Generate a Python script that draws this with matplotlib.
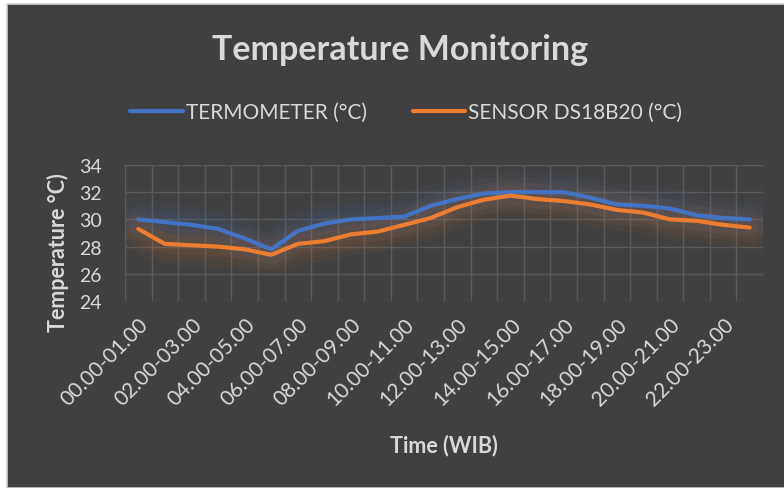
import matplotlib.pyplot as plt
from matplotlib.patches import Rectangle

# Data
hours = ["%02d.00-%02d.00" % (h, h + 1) for h in range(24)]
termometer = [30.0, 29.8, 29.6, 29.3, 28.6, 27.8, 29.15, 29.7, 30.0, 30.1, 30.2, 31.0,
              31.5, 31.9, 32.0, 32.0, 32.0, 31.6, 31.1, 31.0, 30.8, 30.3, 30.1, 30.0]
sensor = [29.3, 28.2, 28.1, 28.0, 27.8, 27.4, 28.2, 28.4, 28.9, 29.1, 29.6, 30.1,
          30.9, 31.45, 31.75, 31.5, 31.35, 31.1, 30.7, 30.5, 30.0, 29.9, 29.6, 29.4]
yticks = [24, 26, 28, 30, 32, 34]

bg = '#404040'
txt = '#d9d9d9'
blue = '#4472c4'
orange = '#ed7d31'
plt.rcParams['font.family'] = ['Lato', 'DejaVu Sans']

fig = plt.figure(figsize=(7.84, 4.89), dpi=100)
fig.patch.set_facecolor('white')
# chart area with light border
fig.patches.append(Rectangle((7 / 784, 0), 1, 1 - 5 / 489, transform=fig.transFigure,
                             facecolor=bg, edgecolor='#d0d0d0', linewidth=1.2, zorder=-10))

ax = fig.add_axes([125 / 784, 1 - 302 / 489, 638 / 784, 136 / 489])
ax.set_facecolor('none')
x = list(range(len(hours)))

# glow
for lw, a in [(30, 0.05), (22, 0.06), (14, 0.07)]:
    ax.plot(x, termometer, color=blue, lw=lw, alpha=a, solid_capstyle='round', zorder=2)
    ax.plot(x, sensor, color=orange, lw=lw, alpha=a, solid_capstyle='round', zorder=2)
ax.plot(x, termometer, color=blue, lw=3, solid_capstyle='round', zorder=4, label='TERMOMETER (°C)')
ax.plot(x, sensor, color=orange, lw=3, solid_capstyle='round', zorder=4, label='SENSOR DS18B20 (°C)')

ax.set_xlim(-0.5, 23.5)
ax.set_ylim(24, 34)
ax.set_yticks(yticks)
ax.set_xticks(x[::2])
ax.set_xticklabels(hours[::2], rotation=45, ha='right', rotation_mode='anchor')
for b in range(25):
    ax.axvline(b - 0.5, color='#5a5a5a', lw=1, zorder=1)
ax.grid(axis='y', color='#5a5a5a', lw=1, zorder=1)
for s in ax.spines.values():
    s.set_visible(False)
ax.tick_params(axis='y', length=0, colors=txt, labelsize=14, pad=16.5)
ax.tick_params(axis='x', length=0, colors=txt, labelsize=15, pad=9)

fig.text(444 / 784, 1 - 446 / 489, 'Time (WIB)', ha='center', va='center',
         color=txt, fontsize=15.5, fontweight='bold')
fig.text(58 / 784, 1 - 253 / 489, 'Temperature °C)', ha='center', va='center', rotation=90,
         color=txt, fontsize=15.5, fontweight='bold')

fig.text(0.51, 1 - 50 / 489, 'Temperature Monitoring', ha='center', va='center',
         color=txt, fontsize=24.5, fontweight='bold')
leg = fig.legend(loc='center', bbox_to_anchor=(0.518, 1 - 113 / 489), ncol=2, frameon=False,
                 fontsize=15, handlelength=2.5, handletextpad=0.15, columnspacing=2.2)
for t in leg.get_texts():
    t.set_color(txt)

fig.savefig('out.png', dpi=100, facecolor=fig.get_facecolor())
